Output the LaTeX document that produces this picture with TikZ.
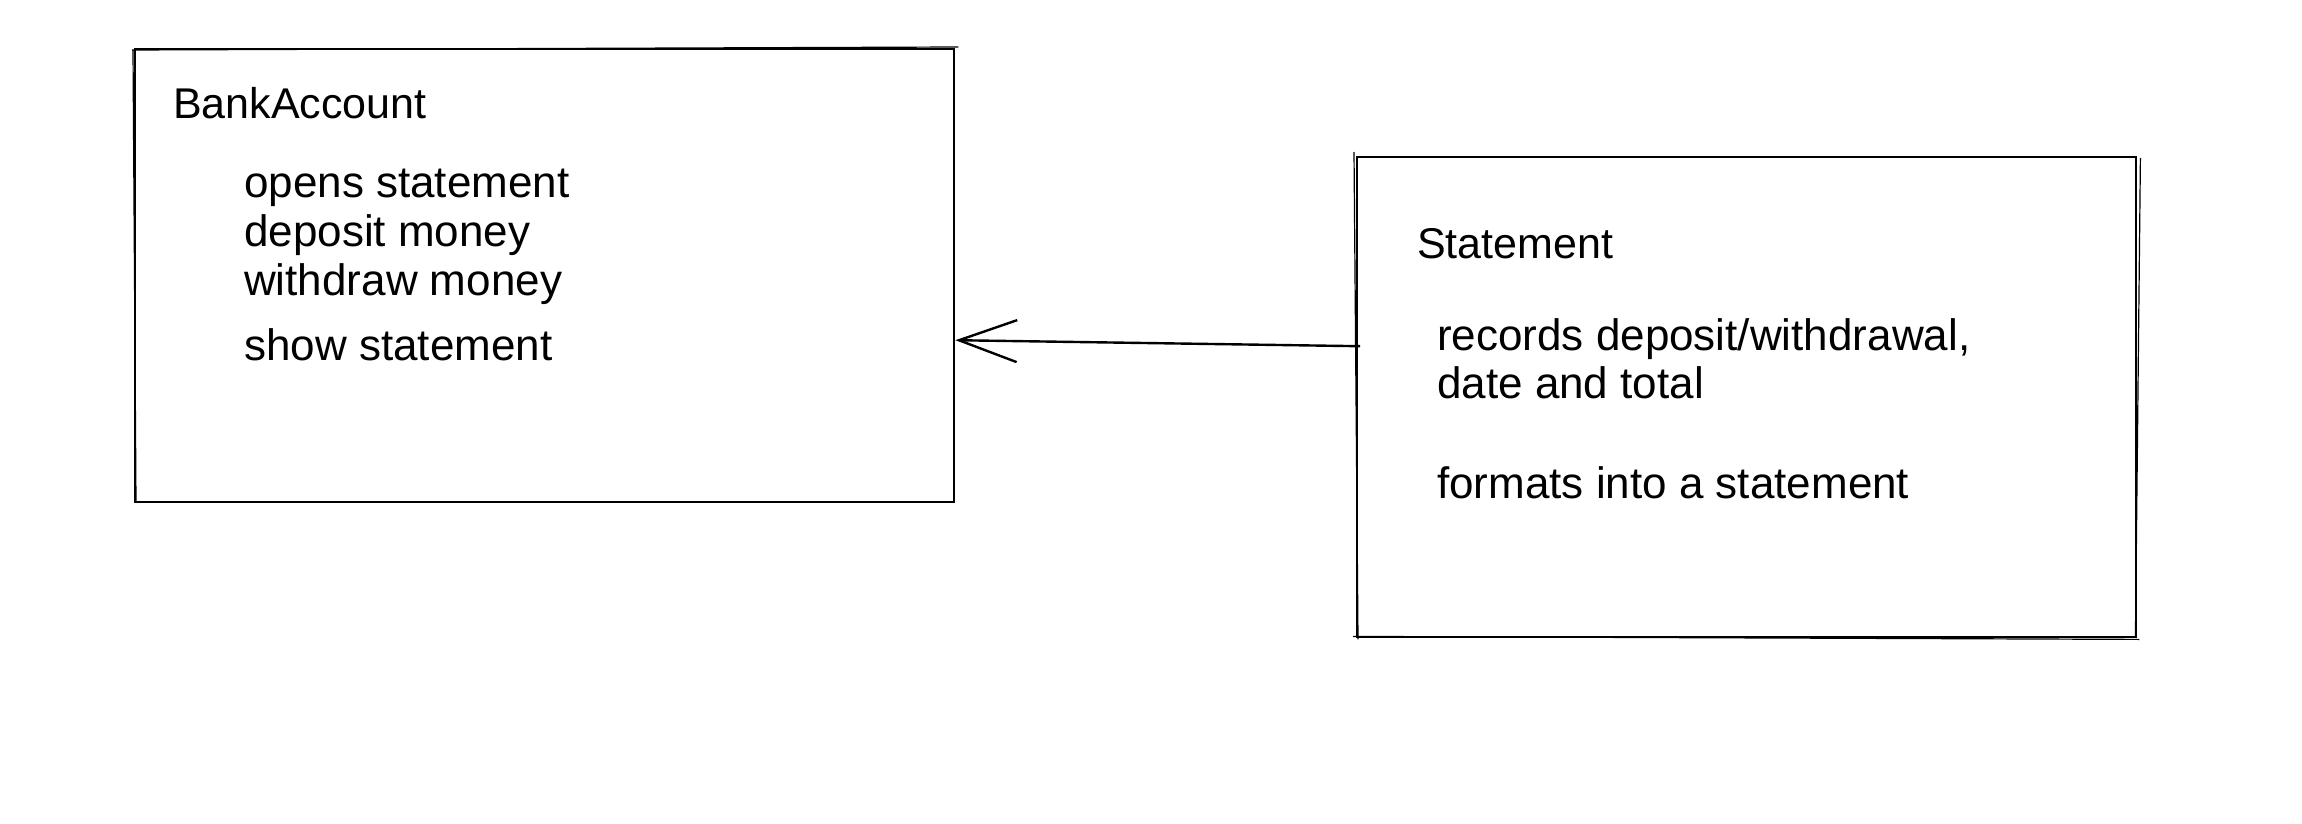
\documentclass[tikz,border=0pt]{standalone}
\usepackage{fontspec}
\setmainfont{Liberation Sans}
\usetikzlibrary{arrows.meta,calc}
\tikzset{
  box/.style={draw=black, line width=2.4pt, rectangle, inner sep=0pt, anchor=north west},
  sketch/.style={draw=black, line width=1.2pt},
  title/.style={anchor=base west, inner sep=0pt, font=\fontsize{43}{50}\selectfont},
  item/.style={anchor=base west, inner sep=0pt, font=\fontsize{44}{50}\selectfont},
  conn/.style={draw=black, line width=2.4pt, -{Straight Barb[length=58pt,width=42pt,line width=2.4pt]}}
}
\begin{document}
\begin{tikzpicture}[x=1pt,y=-1pt]
\useasboundingbox[fill=white] (0,0) rectangle (2302,824);
% boxes
\node[box, minimum width=819pt, minimum height=453pt] (bank) at (134,48) {};
\node[box, minimum width=779pt, minimum height=480pt] (stmt) at (1356,156) {};
% sketchy second strokes
\draw[sketch] ([xshift=-2pt,yshift=-2pt]bank.north west) -- ([xshift=3pt,yshift=1pt]bank.north east);
\draw[sketch] ([xshift=2pt,yshift=2pt]bank.south west) -- ([xshift=-1pt,yshift=-2pt]bank.north west);
\draw[sketch] ([xshift=-3pt,yshift=2pt]stmt.south west) -- ([xshift=2pt,yshift=-1pt]stmt.south east);
\draw[sketch] ([xshift=3pt,yshift=-2pt]stmt.north east) -- ([xshift=-2pt,yshift=1pt]stmt.south east);
\draw[sketch] ([xshift=-2pt,yshift=4pt]stmt.north west) -- ([xshift=2pt,yshift=-1pt]stmt.south west);
% BankAccount texts
\node[title] (bt) at (173,119) {BankAccount};
\node[item] (b1) at (244,197) {opens statement};
\node[item] (b2) at (244,246) {deposit money};
\node[item] (b3) at (244,295) {withdraw money};
\node[item] (b4) at (244,360) {show statement};
% Statement texts
\node[title] (st) at (1417,258) {Statement};
\node[item] (s1) at (1437,350) {records deposit/withdrawal,};
\node[item] (s2) at (1437,398) {date and total};
\node[item] (s3) at (1437,498) {formats into a statement};
% connector
\draw[conn] ([xshift=4pt,yshift=51pt]stmt.west) -- ([yshift=-64.5pt]bank.east);
\end{tikzpicture}
\end{document}
